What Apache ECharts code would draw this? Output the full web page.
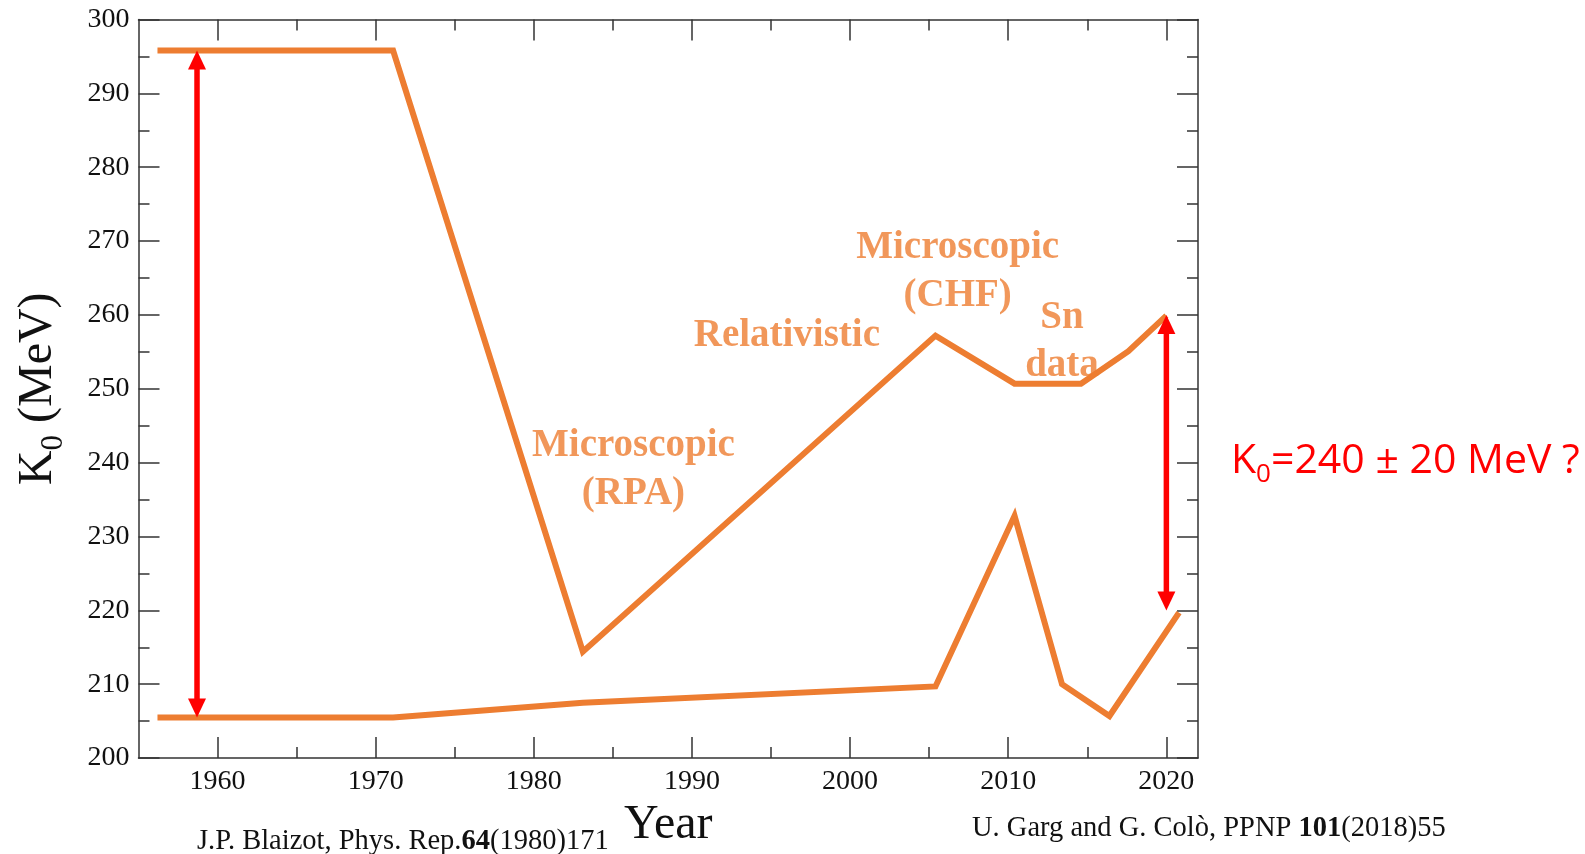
<!DOCTYPE html>
<html>
<head>
<meta charset="utf-8">
<title>Incompressibility K0 versus year</title>
<script src="https://cdn.jsdelivr.net/npm/echarts@6/dist/echarts.min.js"></script>
<style>
  html, body { margin: 0; padding: 0; background: #ffffff; }
  #chart { width: 1585px; height: 854px; }
</style>
</head>
<body>
<div id="chart"></div>
<script>
// Upper envelope of K0 estimates (MeV) against publication year
const upperYears = [1956.2, 1971.1, 1983.1, 2005.4, 2010.4, 2014.6, 2017.6, 2020.0];
const upperK     = [295.8, 295.8, 214.4, 257.2, 250.7, 250.7, 255.1, 259.9];

// Lower envelope of K0 estimates (MeV)
const lowerYears = [1956.2, 1971.1, 1983.1, 2005.4, 2010.4, 2013.4, 2016.4, 2020.8];
const lowerK     = [205.5, 205.5, 207.5, 209.7, 232.8, 210.0, 205.7, 219.7];

// Double-headed range arrows: year, top, bottom
const arrowYears  = [1958.7, 2020.0];
const arrowTop    = [295.8, 260];
const arrowBottom = [205.5, 220];

// Text notes anchored in data coordinates
const noteYears = [1986.3, 1996.0, 2006.8, 2013.4];
const noteK     = [239.0, 257.1, 265.8, 256.3];
const noteTexts = ['Microscopic\n(RPA)', 'Relativistic', 'Microscopic\n(CHF)', 'Sn\ndata'];

// Axis ticks
const yearTicks      = [1960, 1970, 1980, 1990, 2000, 2010, 2020];
const yearMinorTicks = [1965, 1975, 1985, 1995, 2005, 2015];
const yearMin = 1955, yearMax = 2022;
const kMin = 200, kMax = 300, kStep = 10;

const ORANGE = '#ED7D31';
const RED = '#FF0000';
const AXIS = '#333333';
const SERIF = '"Liberation Serif", "Times New Roman", serif';

const zip = (xs, ys) => xs.map((x, i) => [x, ys[i]]);

function xAxisDef(pos, ticks, len, withLine, withLabel) {
  return {
    type: 'value', position: pos, min: yearMin, max: yearMax,
    axisLine: { show: withLine, lineStyle: { color: AXIS, width: 1.5 } },
    axisTick: { show: true, inside: true, length: len, customValues: ticks,
                lineStyle: { color: AXIS, width: 1.5 } },
    axisLabel: withLabel
      ? { show: true, customValues: ticks, margin: 10, color: '#111',
          fontFamily: SERIF, fontSize: 28, formatter: (v) => String(v) }
      : { show: false },
    splitLine: { show: false }
  };
}

function yAxisDef(pos, withLabel) {
  return {
    type: 'value', position: pos, min: kMin, max: kMax, interval: kStep,
    axisLine: { show: true, lineStyle: { color: AXIS, width: 1.5 } },
    axisTick: { show: true, inside: true, length: 21, lineStyle: { color: AXIS, width: 1.5 } },
    minorTick: { show: true, splitNumber: 2, length: 11, lineStyle: { color: AXIS, width: 1.5 } },
    axisLabel: withLabel
      ? { show: true, margin: 9, color: '#111', fontFamily: SERIF, fontSize: 28,
          formatter: (v) => String(v) }
      : { show: false },
    splitLine: { show: false }
  };
}

const xAxes = [
  xAxisDef('bottom', yearTicks, 21, true, true),
  xAxisDef('bottom', yearMinorTicks, 11, false, false),
  xAxisDef('top', yearTicks, 21, true, false),
  xAxisDef('top', yearMinorTicks, 11, false, false)
];
xAxes[0].name = 'Year';
xAxes[0].nameLocation = 'middle';
xAxes[0].nameGap = 27;
xAxes[0].nameTextStyle = { fontFamily: SERIF, fontSize: 48, color: '#111' };

const yAxes = [yAxisDef('left', true), yAxisDef('right', false)];
yAxes[0].name = '{k|K}{s|0}{k| (MeV)}';
yAxes[0].nameLocation = 'middle';
yAxes[0].nameGap = 69;
yAxes[0].nameTextStyle = {
  color: '#111',
  rich: {
    k: { fontFamily: SERIF, fontSize: 48, lineHeight: 62, color: '#111' },
    s: { fontFamily: SERIF, fontSize: 31, lineHeight: 22, verticalAlign: 'bottom', color: '#111' }
  }
};

// Vertical double-headed arrow between two values at one year
function renderArrow(params, api) {
  const top = api.coord([api.value(0), api.value(1)]);
  const bot = api.coord([api.value(0), api.value(2)]);
  const x = top[0];
  const headW = 18, headL = 19;
  const style = { fill: RED };
  return {
    type: 'group',
    children: [
      { type: 'rect', shape: { x: x - 2.75, y: top[1] + headL - 1, width: 5.5,
                               height: bot[1] - top[1] - 2 * headL + 2 }, style },
      { type: 'polygon', shape: { points: [[x, top[1]], [x - headW / 2, top[1] + headL], [x + headW / 2, top[1] + headL]] }, style },
      { type: 'polygon', shape: { points: [[x, bot[1]], [x - headW / 2, bot[1] - headL], [x + headW / 2, bot[1] - headL]] }, style }
    ]
  };
}

const lineStyleOrange = { color: ORANGE, width: 6, join: 'miter', cap: 'butt' };

const option = {
  animation: false,
  backgroundColor: '#ffffff',
  grid: { left: 138.5, right: 387, top: 19.5, bottom: 94, containLabel: false },
  xAxis: xAxes,
  yAxis: yAxes,
  series: [
    {
      name: 'upper', type: 'line', xAxisIndex: 0, yAxisIndex: 0,
      data: zip(upperYears, upperK), showSymbol: false, symbol: 'none',
      lineStyle: lineStyleOrange, itemStyle: { color: ORANGE }, z: 3
    },
    {
      name: 'lower', type: 'line', xAxisIndex: 0, yAxisIndex: 0,
      data: zip(lowerYears, lowerK), showSymbol: false, symbol: 'none',
      lineStyle: lineStyleOrange, itemStyle: { color: ORANGE }, z: 3
    },
    {
      name: 'range', type: 'custom', xAxisIndex: 0, yAxisIndex: 0, z: 4, silent: true,
      data: arrowYears.map((x, i) => [x, arrowTop[i], arrowBottom[i]]),
      encode: { x: 0, y: [1, 2] },
      renderItem: renderArrow
    },
    {
      name: 'notes', type: 'scatter', xAxisIndex: 0, yAxisIndex: 0,
      symbolSize: 0, silent: true, z: 5,
      data: noteYears.map((x, i) => ({ value: [x, noteK[i]], text: noteTexts[i] })),
      label: {
        show: true, position: 'inside',
        formatter: (p) => p.data.text,
        fontFamily: SERIF, fontWeight: 'bold', fontSize: 39, lineHeight: 48,
        color: ORANGE, align: 'center', verticalAlign: 'middle'
      }
    }
  ],
  graphic: [
    {
      type: 'text', left: 197, top: 827, silent: true,
      style: {
        text: '{r|J.P. Blaizot, Phys. Rep.}{b|64}{r|(1980)171}',
        rich: {
          r: { fontFamily: SERIF, fontSize: 28.5, fill: '#111' },
          b: { fontFamily: SERIF, fontSize: 28.5, fontWeight: 'bold', fill: '#111' }
        }
      }
    },
    {
      type: 'text', left: 972, top: 814, silent: true,
      style: {
        text: '{r|U. Garg and G. Colò, PPNP }{b|101}{r|(2018)55}',
        rich: {
          r: { fontFamily: SERIF, fontSize: 28.5, fill: '#111' },
          b: { fontFamily: SERIF, fontSize: 28.5, fontWeight: 'bold', fill: '#111' }
        }
      }
    },
    {
      type: 'text', left: 1231, top: 441, silent: true,
      style: {
        text: '{k|K}{s|0}{k|=240 ± 20 MeV ?}',
        rich: {
          k: { fontFamily: '"Open Sans", sans-serif', fontSize: 41, lineHeight: 52, fill: RED },
          s: { fontFamily: '"Open Sans", sans-serif', fontSize: 26, lineHeight: 26, verticalAlign: 'bottom', fill: RED }
        }
      }
    }
  ]
};

const chart = echarts.init(document.getElementById('chart'), null, { renderer: 'canvas' });
chart.setOption(option);
</script>
</body>
</html>
